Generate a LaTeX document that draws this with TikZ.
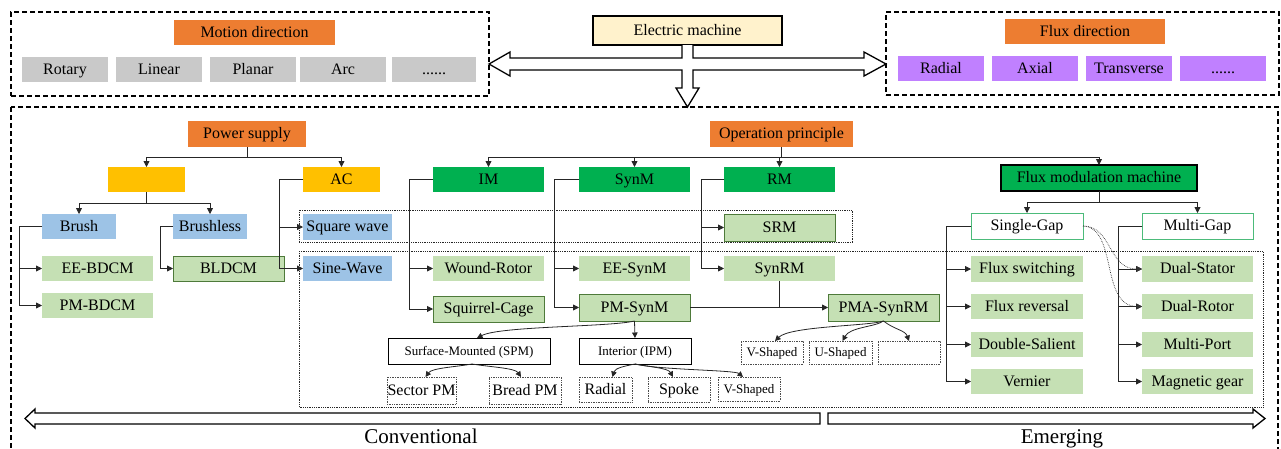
\documentclass[tikz,border=0pt]{standalone}
\usepackage{fontspec}
\setmainfont{Liberation Serif}
\usetikzlibrary{arrows.meta}
\definecolor{cOrange}{HTML}{ED7D31}
\definecolor{cGray}{HTML}{C9C9C9}
\definecolor{cCream}{HTML}{FFF2CC}
\definecolor{cPurple}{HTML}{C080FF}
\definecolor{cYellow}{HTML}{FFC000}
\definecolor{cBlue}{HTML}{9DC3E6}
\definecolor{cLGreen}{HTML}{C5E0B4}
\definecolor{cDGreen}{HTML}{4E7A3A}
\definecolor{cGreen}{HTML}{00B050}
\definecolor{cTeal}{HTML}{4CBB7A}
\newcommand\mybox[7]{\node[#6,minimum width={(#4-#2)*1pt},minimum height={(#5-#3)*1pt}] (#1) at ({(#2+#4)/2},{(#3+#5)/2}) {#7};}
\tikzset{
  base/.style={rectangle, inner sep=0pt, outer sep=0pt, font=\fontsize{16}{18}\selectfont, text=black, text height=11.3pt, text depth=2pt},
  orange/.style={base, fill=cOrange},
  grayb/.style={base, fill=cGray},
  purp/.style={base, fill=cPurple},
  yel/.style={base, fill=cYellow},
  blue/.style={base, fill=cBlue},
  lg/.style={base, fill=cLGreen},
  lgb/.style={base, fill=cLGreen, draw=cDGreen, line width=1pt},
  grn/.style={base, fill=cGreen},
  fmmb/.style={base, fill=cGreen, draw=black, line width=1.4pt},
  emb/.style={base, fill=cCream, draw=black, line width=1.2pt},
  sgb/.style={base, fill=white, draw=cTeal, line width=1pt},
  smallb/.style={base, fill=white, draw=black, line width=0.8pt, font=\fontsize{13}{15}\selectfont, text height=9.6pt, text depth=1.6pt},
  dotb/.style={base, fill=white, draw=black!70, densely dotted, line width=0.7pt},
  dotbs/.style={dotb, font=\fontsize{13}{15}\selectfont, text height=9.6pt, text depth=1.6pt},
  dbox/.style={draw=black, line width=1.6pt, dash pattern=on 5pt off 3pt},
  dreg/.style={draw=black!85, line width=0.8pt, densely dotted},
  conn/.style={draw=black!85, line width=0.8pt},
  arr/.style={conn, -{Triangle[length=6pt,width=6pt]}},
  carr/.style={conn, -{Triangle[length=5.5pt,width=5.5pt]}},
  dotc/.style={draw=black!80, line width=0.7pt, densely dotted, -{Triangle[length=5.5pt,width=5.5pt]}},
  hollow/.style={draw=black, line width=1.3pt, fill=white, line join=miter},
  lbl/.style={font=\fontsize{21}{24}\selectfont, inner sep=0pt, anchor=base}
}
\begin{document}
\begin{tikzpicture}[x=1pt,y=-1pt]
\useasboundingbox (0,0) rectangle (1281,448);
% frames
\mybox{mframe}{11}{12}{489}{96}{dbox}{}
\mybox{fframe}{886}{12}{1279}{95}{dbox}{}
\draw[dbox] (11,107) rectangle (1278,470);
% dotted regions
\draw[dreg] (299,210) rectangle (852,242);
\draw[dreg] (299,251) rectangle (1263,407);
% top
\mybox{md}{174}{20}{335}{45}{orange}{Motion direction}
\mybox{rot}{22}{57}{108}{82}{grayb}{Rotary}
\mybox{lin}{116}{57}{202}{82}{grayb}{Linear}
\mybox{pla}{210}{57}{296}{82}{grayb}{Planar}
\mybox{arc}{300}{57}{386}{82}{grayb}{Arc}
\mybox{mdots}{392}{57}{476}{82}{grayb}{......}
\mybox{fd}{1005}{19}{1165}{44}{orange}{Flux direction}
\mybox{rad}{898}{56}{984}{81}{purp}{Radial}
\mybox{axi}{992}{56}{1078}{81}{purp}{Axial}
\mybox{tra}{1086}{56}{1172}{81}{purp}{Transverse}
\mybox{fdots}{1180}{56}{1266}{81}{purp}{......}
\mybox{em}{593}{16}{782}{45}{emb}{Electric machine}
\draw[hollow] (682,45) -- (682,58) -- (510,58) -- (510,52) -- (489,64) -- (510,76) -- (510,70) -- (682,70)
  -- (682,88) -- (676,88) -- (687.5,107) -- (699,88) -- (693,88) -- (693,70) -- (864,70) -- (864,76)
  -- (886,64) -- (864,52) -- (864,58) -- (693,58) -- (693,45);
% power supply
\mybox{ps}{188}{121}{306}{147}{orange}{Power supply}
\mybox{dc}{108}{167}{185}{192}{yel}{}
\mybox{ac}{303}{167}{380}{192}{yel}{AC}
\mybox{brush}{42}{214}{116}{239}{blue}{Brush}
\mybox{brushless}{173}{214}{247}{239}{blue}{Brushless}
\mybox{ee}{42}{256}{153}{281}{lg}{EE-BDCM}
\mybox{pmb}{42}{293}{153}{318}{lg}{PM-BDCM}
\mybox{bldcm}{173}{256}{284}{281}{lgb}{BLDCM}
\mybox{sq}{303}{214}{392}{240}{blue}{Square wave}
\mybox{sine}{303}{256}{392}{281}{blue}{Sine-Wave}
% operation principle
\mybox{op}{710}{121}{853}{147}{orange}{Operation principle}
\mybox{im}{433}{167}{544}{192}{grn}{IM}
\mybox{synm}{579}{167}{690}{192}{grn}{SynM}
\mybox{rm}{724}{167}{835}{192}{grn}{RM}
\mybox{fmm}{1001}{165}{1197}{191}{fmmb}{Flux modulation machine}
\mybox{wr}{433}{256}{544}{281}{lg}{Wound-Rotor}
\mybox{sc}{433}{296}{544}{322}{lgb}{Squirrel-Cage}
\mybox{ees}{579}{256}{690}{281}{lg}{EE-SynM}
\mybox{pms}{579}{294}{690}{321}{lgb}{PM-SynM}
\mybox{srm}{724}{214}{835}{241}{lgb}{SRM}
\mybox{synrm}{724}{256}{835}{281}{lg}{SynRM}
\mybox{pma}{828}{294}{939}{321}{lgb}{PMA-SynRM}
\mybox{spm}{388}{338}{550}{364}{smallb}{Surface-Mounted (SPM)}
\mybox{ipm}{579}{338}{691}{364}{smallb}{Interior (IPM)}
\mybox{sector}{387}{377}{456}{404}{dotb}{Sector PM}
\mybox{bread}{489}{377}{561}{404}{dotb}{Bread PM}
\mybox{radial}{579}{377}{632}{402}{dotb}{Radial}
\mybox{spoke}{648}{377}{710}{402}{dotb}{Spoke}
\mybox{vs1}{718}{377}{780}{401}{dotbs}{V-Shaped}
\mybox{vs2}{741}{341}{803}{364}{dotbs}{V-Shaped}
\mybox{us}{809}{341}{872}{364}{dotbs}{U-Shaped}
\mybox{emp}{878}{341}{940}{364}{dotbs}{}
\mybox{sg}{971}{213}{1083}{239}{sgb}{Single-Gap}
\mybox{mg}{1142}{213}{1253}{239}{sgb}{Multi-Gap}
\mybox{fs}{971}{256}{1083}{282}{lg}{Flux switching}
\mybox{fr}{971}{294}{1083}{319}{lg}{Flux reversal}
\mybox{dsal}{971}{332}{1083}{357}{lg}{Double-Salient}
\mybox{ve}{971}{369}{1083}{394}{lg}{Vernier}
\mybox{dst}{1142}{256}{1253}{282}{lg}{Dual-Stator}
\mybox{dro}{1142}{294}{1253}{319}{lg}{Dual-Rotor}
\mybox{mp}{1142}{332}{1253}{357}{lg}{Multi-Port}
\mybox{mgear}{1142}{369}{1253}{394}{lg}{Magnetic gear}
% connectors: power supply
\draw[arr] (ps.south) -- ++(0,10) -| (dc.north);
\draw[arr] (ps.south) -- ++(0,10) -| (ac.north);
\draw[arr] (dc.south) -- ++(0,11) -| (brush.north);
\draw[arr] (dc.south) -- ++(0,11) -| (brushless.north);
\draw[arr] (brush.west) -- ++(-23,0) |- (ee.west);
\draw[arr] (brush.west) -- ++(-23,0) |- (pmb.west);
\draw[arr] (brushless.west) -- ++(-13,0) |- (bldcm.west);
\draw[arr] (ac.west) -- ++(-24,0) |- (sq.west);
\draw[arr] (ac.west) -- ++(-24,0) |- (sine.west);
% connectors: operation principle
\draw[arr] (op.south) -- ++(0,10) -| (im.north);
\draw[arr] (op.south) -- ++(0,10) -| (synm.north);
\draw[arr] (op.south) -- ++(0,10) -| (rm.north);
\draw[arr] (op.south) -- ++(0,10) -| (fmm.north);
\draw[arr] (im.west) -- ++(-24,0) |- (wr.west);
\draw[arr] (im.west) -- ++(-24,0) |- (sc.west);
\draw[arr] (synm.west) -- ++(-25,0) |- (ees.west);
\draw[arr] (synm.west) -- ++(-25,0) |- (pms.west);
\draw[arr] (rm.west) -- ++(-23,0) |- (srm.west);
\draw[arr] (rm.west) -- ++(-23,0) |- (synrm.west);
\draw[arr] (pms.east) -- (pma.west);
\draw[conn] (synrm.south) -- (synrm.south |- pma.west);
\draw[carr] (pms.south) .. controls (610,327) and (500,326) .. ([xshift=8pt]spm.north);
\draw[carr] (pms.south) -- (ipm.north);
\draw[carr] ([xshift=3pt]spm.south) .. controls (455,367) and (432,368) .. ([xshift=4pt]sector.north);
\draw[carr] ([xshift=3pt]spm.south) .. controls (490,367) and (515,368) .. ([xshift=-4pt]bread.north);
\draw[carr] (ipm.south) .. controls (625,366) and (615,368) .. ([xshift=7pt]radial.north);
\draw[carr] (ipm.south) .. controls (650,367) and (668,368) .. ([xshift=-6pt]spoke.north);
\draw[carr] (ipm.south) .. controls (660,370) and (735,370) .. ([xshift=-6pt]vs1.north);
\draw[carr] (pma.south) .. controls (870,326) and (790,326) .. ([xshift=3pt]vs2.north);
\draw[carr] (pma.south) .. controls (875,327) and (850,327) .. ([xshift=2pt]us.north);
\draw[carr] (pma.south) .. controls (895,330) and (905,330) .. (emp.north);
% connectors: flux modulation
\draw[arr] (fmm.south) -- ++(0,11) -| (sg.north);
\draw[arr] (fmm.south) -- ++(0,11) -| (mg.north);
\draw[arr] (sg.west) -- ++(-25,0) |- (fs.west);
\draw[arr] (sg.west) -- ++(-25,0) |- (fr.west);
\draw[arr] (sg.west) -- ++(-25,0) |- (dsal.west);
\draw[arr] (sg.west) -- ++(-25,0) |- (ve.west);
\draw[arr] (mg.west) -- ++(-24,0) |- (dst.west);
\draw[arr] (mg.west) -- ++(-24,0) |- (dro.west);
\draw[arr] (mg.west) -- ++(-24,0) |- (mp.west);
\draw[arr] (mg.west) -- ++(-24,0) |- (mgear.west);
\draw[dotc] (sg.east) .. controls (1112,226) and (1108,269) .. (dst.west);
\draw[dotc] (sg.east) .. controls (1118,228) and (1100,306) .. (dro.west);
% bottom arrows
\draw[hollow] (25,418.5) -- (35,409) -- (35,413) -- (820,413) -- (820,424) -- (35,424) -- (35,428) -- cycle;
\draw[hollow] (828,413) -- (1253,413) -- (1253,409) -- (1265,418.5) -- (1253,428) -- (1253,424) -- (828,424) -- cycle;
\node[lbl] (conv) at (421,443) {Conventional};
\node[lbl] (emer) at (1062,443) {Emerging};
\end{tikzpicture}
\end{document}
